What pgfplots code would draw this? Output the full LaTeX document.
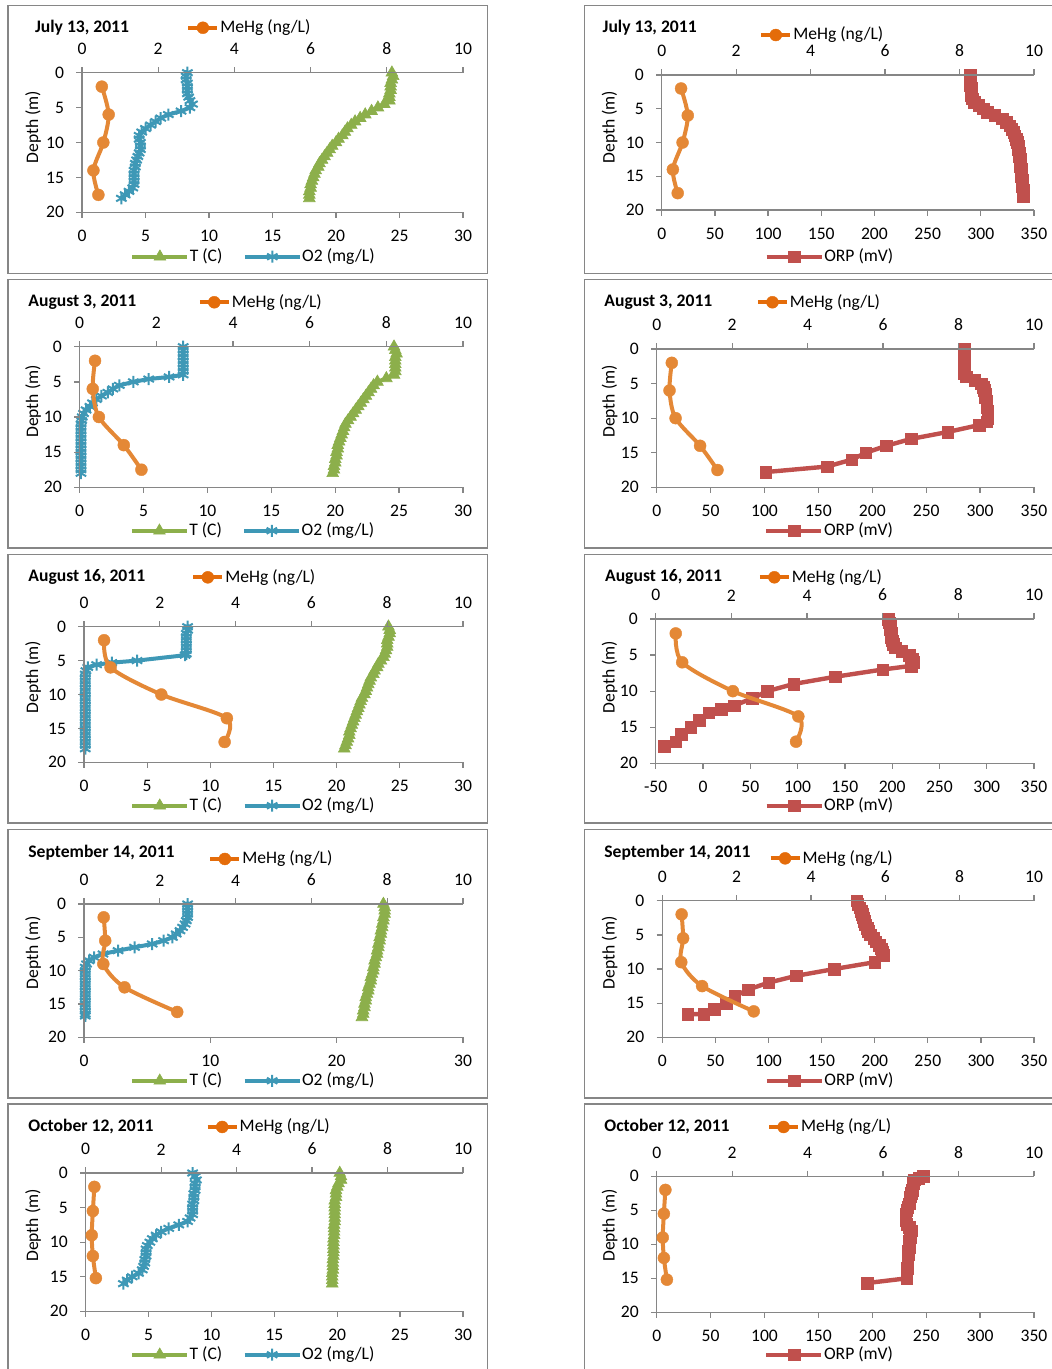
\documentclass[border=0pt]{standalone}
\usepackage{fontspec}
\setmainfont{Carlito}
\usepackage{pgfplots}
\pgfplotsset{compat=1.18}
\definecolor{mehg}{RGB}{228,136,54}
\definecolor{mehgleg}{RGB}{228,108,10}
\definecolor{tgreen}{RGB}{140,175,75}
\definecolor{oblue}{RGB}{62,152,182}
\definecolor{orpred}{RGB}{192,80,77}
\definecolor{axgray}{RGB}{134,134,134}
\newcommand\tk{\fontsize{8.8}{10.5}\selectfont}
\pgfplotsset{
 base/.style={scale only axis, anchor=north west, ymin=0, ymax=20, y dir=reverse, clip=false,
   axis line style={axgray, line width=0.65pt},
   major tick style={axgray, line width=0.65pt},
   tick align=outside, major tick length=2.8pt,
   tick label style={font=\tk, inner sep=0pt, text=black},
   /pgf/number format/assume math mode=true,
   legend style={draw=none, fill=none, inner sep=0pt, font=\tk, anchor=west, nodes={inner sep=0pt}},
   legend cell align=left},
 topax/.style={base, xmin=0, xmax=10, xtick={0,2,...,10}, ytick={0,5,...,20},
   axis x line*=top, axis y line*=left, xticklabel shift=6pt, yticklabel shift=6pt,
   legend image code/.code={\draw[mark repeat=2,mark phase=2,##1] plot coordinates {(0pt,0pt) (7.25pt,0pt) (14.5pt,0pt)};},
   legend style={/tikz/every odd column/.style={column sep=0.5pt}}},
 botax/.style={base, xmin=0, axis x line*=bottom, axis y line=none, xticklabel shift=6pt,
   legend image code/.code={\draw[mark repeat=2,mark phase=2,##1] plot coordinates {(0pt,0pt) (13.75pt,0pt) (27.5pt,0pt)};},
   legend columns=2,
   legend style={/tikz/every odd column/.style={column sep=0.2pt}, /tikz/every even column/.style={column sep=10.2pt}}},
 botT/.style={botax, xmax=30, xtick={0,5,...,30}},
 botORP/.style={botax, xmax=350, xtick={0,50,...,350}},
 sMe/.style={mehg, line width=2pt, smooth, mark=*, mark size=3pt, mark options={solid, line width=0.2pt}},
 sMeL/.style={sMe, mehgleg},
 sT/.style={tgreen, line width=2pt, mark=triangle*, mark size=3.4pt, mark options={solid, line width=0.3pt}},
 sO/.style={oblue, line width=2pt, mark=asterisk, mark size=3pt, mark options={solid, line width=1pt}},
 sR/.style={orpred, line width=2.2pt, mark=square*, mark size=2.9pt, mark options={solid, line width=0.2pt}},
}
\begin{document}
\begin{tikzpicture}
% ---------- frames, titles, labels ----------
\begin{scope}[x=0.5pt,y=-0.5pt]
 \foreach \a/\b in {5.5/273.5, 279.5/548, 554.5/823, 829.5/1098, 1104/1380}{
   \draw[axgray, line width=0.75pt] (8,\a) rectangle (487.5,\b);
   \draw[axgray, line width=0.75pt] (584.5,\a) rectangle (1070,\b);
 }
 \node[anchor=west, font=\tk\bfseries, inner sep=0pt] at (34.7,27.7) {July 13, 2011};
 \node[anchor=west, font=\tk\bfseries, inner sep=0pt] at (602.3,27.7) {July 13, 2011};
 \node[anchor=west, font=\tk\bfseries, inner sep=0pt] at (28,302.3) {August 3, 2011};
 \node[anchor=west, font=\tk\bfseries, inner sep=0pt] at (604,302.3) {August 3, 2011};
 \node[anchor=west, font=\tk\bfseries, inner sep=0pt] at (28,577.3) {August 16, 2011};
 \node[anchor=west, font=\tk\bfseries, inner sep=0pt] at (604.7,577.3) {August 16, 2011};
 \node[anchor=west, font=\tk\bfseries, inner sep=0pt] at (28,852.3) {September 14, 2011};
 \node[anchor=west, font=\tk\bfseries, inner sep=0pt] at (604,852.3) {September 14, 2011};
 \node[anchor=west, font=\tk\bfseries, inner sep=0pt] at (28,1127) {October 12, 2011};
 \node[anchor=west, font=\tk\bfseries, inner sep=0pt] at (604,1127) {October 12, 2011};
 \foreach \yy in {127,401.5,677,952.7,1225.5}{
   \node[rotate=90, font=\tk, inner sep=0pt] at (33,\yy) {Depth (m)};
   \node[rotate=90, font=\tk, inner sep=0pt] at (609.5,\yy) {Depth (m)};
 }
\end{scope}

% ================= Row 1: July 13 =================
\begin{axis}[botT, at={(41pt,-36.35pt)}, width=190.5pt, height=69.8pt,
  legend style={at={(0.126,-0.318)}}]
\addplot[sT] coordinates {(24.4,0) (24.5,0.5) (24.4,1) (24.3,1.5) (24.3,2) (24.3,2.5) (24.2,3) (24.2,3.5) (24.2,4) (23.8,4.5) (23.3,5) (22.8,5.5) (22.3,6) (21.9,6.5) (21.5,7) (21.2,7.5) (20.9,8) (20.7,8.5) (20.5,9) (20.2,9.5) (20.0,10) (19.7,10.5) (19.5,11) (19.3,11.5) (19.1,12) (18.9,12.5) (18.7,13) (18.6,13.5) (18.4,14) (18.3,14.5) (18.2,15) (18.1,15.5) (18.0,16) (18.0,16.5) (17.9,17) (17.9,17.5) (17.9,18)};
\addlegendentry{T (C)}
\addplot[sO] coordinates {(8.3,0) (8.2,0.5) (8.2,1) (8.3,1.5) (8.3,2) (8.3,2.5) (8.3,3) (8.4,3.5) (8.5,4) (8.7,4.5) (8.5,5) (7.8,5.5) (6.8,6) (6.2,6.5) (5.8,7) (5.4,7.5) (5.0,8) (4.7,8.5) (4.5,9) (4.5,9.5) (4.6,10) (4.6,10.5) (4.6,11) (4.5,11.5) (4.4,12) (4.3,12.5) (4.2,13) (4.2,13.5) (4.1,14) (4.1,14.5) (4.1,15) (4.1,15.5) (4.1,16) (4.0,16.5) (3.7,17) (3.4,17.5) (3.1,18)};
\addlegendentry{O2 (mg/L)}
\end{axis}
\begin{axis}[topax, at={(41pt,-36.35pt)}, width=190.5pt, height=69.8pt,
  legend style={at={(0.273,1.322)}}]
\addlegendimage{sMeL}\addlegendentry{MeHg (ng/L)}
\addplot[sMe, forget plot] coordinates {(0.52,2) (0.70,6) (0.56,10) (0.30,14) (0.43,17.5)};
\end{axis}

\begin{axis}[botORP, at={(330.85pt,-37.5pt)}, width=186.15pt, height=67.5pt,
  legend style={at={(0.275,-0.346)}}]
\addplot[sR] coordinates {(290,0) (290,0.5) (290,1) (290,1.5) (291,2) (291,2.5) (291,3) (292,3.5) (294,4) (298,4.5) (302,5) (306,5.5) (313,6) (320,6.5) (324,7) (327,7.5) (329,8) (331,8.5) (332,9) (333,9.5) (334,10) (335,10.5) (335,11) (336,11.5) (336,12) (337,12.5) (337,13) (337,13.5) (338,14) (338,14.5) (338,15) (339,15.5) (339,16) (339,16.5) (340,17) (340,17.5) (340,18)};
\addlegendentry{ORP (mV)}
\end{axis}
\begin{axis}[topax, at={(330.85pt,-37.5pt)}, width=186.15pt, height=67.5pt,
  legend style={at={(0.261,1.296)}}]
\addlegendimage{sMeL}\addlegendentry{MeHg (ng/L)}
\addplot[sMe, forget plot] coordinates {(0.52,2) (0.70,6) (0.56,10) (0.30,14) (0.43,17.5)};
\end{axis}

% ================= Row 2: August 3 =================
\begin{axis}[botT, at={(39.85pt,-173.35pt)}, width=191.65pt, height=70.3pt,
  legend style={at={(0.130,-0.309)}}]
\addplot[sT] coordinates {(24.6,0) (24.7,0.5) (24.8,1) (24.7,1.5) (24.7,2) (24.7,2.5) (24.7,3) (24.7,3.5) (24.6,4) (24.0,4.5) (23.3,5) (23.0,5.5) (22.8,6) (22.6,6.5) (22.4,7) (22.2,7.5) (22.0,8) (21.8,8.5) (21.6,9) (21.4,9.5) (21.2,10) (21.0,10.5) (20.8,11) (20.7,11.5) (20.6,12) (20.5,12.5) (20.4,13) (20.3,13.5) (20.2,14) (20.2,14.5) (20.1,15) (20.1,15.5) (20.0,16) (20.0,16.5) (19.9,17) (19.9,17.5) (19.8,18)};
\addlegendentry{T (C)}
\addplot[sO] coordinates {(8.1,0) (8.1,0.5) (8.1,1) (8.1,1.5) (8.1,2) (8.1,2.5) (8.1,3) (8.1,3.5) (8.1,4) (7.0,4.3) (5.4,4.6) (4.2,5) (3.1,5.5) (2.6,6) (2.2,6.5) (1.7,7) (1.3,7.5) (1.0,8) (0.8,8.5) (0.5,9) (0.3,9.5) (0.2,10) (0.15,10.5) (0.1,11) (0.1,11.5) (0.1,12) (0.1,12.5) (0.1,13) (0.1,13.5) (0.1,14) (0.1,14.5) (0.1,15) (0.1,15.5) (0.1,16) (0.1,16.5) (0.1,17) (0.1,17.5) (0.1,18)};
\addlegendentry{O2 (mg/L)}
\end{axis}
\begin{axis}[topax, at={(39.85pt,-173.35pt)}, width=191.65pt, height=70.3pt,
  legend style={at={(0.307,1.316)}}]
\addlegendimage{sMeL}\addlegendentry{MeHg (ng/L)}
\addplot[sMe, forget plot] coordinates {(0.40,2) (0.34,6) (0.50,10) (1.15,14) (1.61,17.5)};
\end{axis}

\begin{axis}[botORP, at={(328.35pt,-174.5pt)}, width=188.65pt, height=69.15pt,
  legend style={at={(0.284,-0.314)}}]
\addplot[sR] coordinates {(285,0) (285,0.5) (285,1) (285,1.5) (285,2) (285,2.5) (285,3) (285,3.5) (287,4) (295,4.5) (301,5) (303,5.5) (304,6) (305,6.5) (305,7) (306,7.5) (306,8) (306,8.5) (307,9) (307,9.5) (307,10) (306,10.5) (299,11) (270,12) (236,13) (213,14) (194,15) (181,16) (158,17) (101,17.8)};
\addlegendentry{ORP (mV)}
\end{axis}
\begin{axis}[topax, at={(328.35pt,-174.5pt)}, width=188.65pt, height=69.15pt,
  legend style={at={(0.262,1.338)}}]
\addlegendimage{sMeL}\addlegendentry{MeHg (ng/L)}
\addplot[sMe, forget plot] coordinates {(0.40,2) (0.34,6) (0.50,10) (1.15,14) (1.61,17.5)};
\end{axis}

% ================= Row 3: August 16 =================
\begin{axis}[botT, at={(42pt,-313.35pt)}, width=189.5pt, height=67.8pt,
  legend style={at={(0.121,-0.320)}}]
\addplot[sT] coordinates {(24.1,0) (24.2,0.5) (24.2,1) (24.1,1.5) (24.0,2) (24.0,2.5) (24.0,3) (23.9,3.5) (23.8,4) (23.7,4.5) (23.5,5) (23.3,5.5) (23.2,6) (23.0,6.5) (22.9,7) (22.7,7.5) (22.6,8) (22.5,8.5) (22.4,9) (22.3,9.5) (22.2,10) (22.0,10.5) (21.9,11) (21.8,11.5) (21.7,12) (21.6,12.5) (21.5,13) (21.4,13.5) (21.3,14) (21.2,14.5) (21.1,15) (21.0,15.5) (21.0,16) (20.9,16.5) (20.8,17) (20.7,17.5) (20.6,18)};
\addlegendentry{T (C)}
\addplot[sO] coordinates {(8.2,0) (8.2,0.5) (8.1,1) (8.1,1.5) (8.1,2) (8.1,2.5) (8.1,3) (8.1,3.5) (8.1,4) (8.0,4.2) (4.2,5.0) (2.2,5.3) (1.0,5.6) (0.3,6) (0.15,6.5) (0.1,7) (0.1,7.5) (0.1,8) (0.1,8.5) (0.1,9) (0.1,9.5) (0.1,10) (0.1,10.5) (0.1,11) (0.1,11.5) (0.1,12) (0.1,12.5) (0.1,13) (0.1,13.5) (0.1,14) (0.1,14.5) (0.1,15) (0.1,15.5) (0.1,16) (0.1,16.5) (0.1,17) (0.1,17.5) (0.1,18)};
\addlegendentry{O2 (mg/L)}
\end{axis}
\begin{axis}[topax, at={(42pt,-313.35pt)}, width=189.5pt, height=67.8pt,
  legend style={at={(0.282,1.364)}}]
\addlegendimage{sMeL}\addlegendentry{MeHg (ng/L)}
\addplot[sMe, forget plot] coordinates {(0.53,2) (0.70,6) (2.04,10) (3.77,13.5) (3.71,17)};
\end{axis}

\begin{axis}[botORP, xmin=-50, xtick={-50,0,...,350}, at={(327.85pt,-309.5pt)}, width=189.15pt, height=72.15pt,
  legend style={at={(0.286,-0.294)}}]
\addplot[sR] coordinates {(196,0) (197,0.5) (198,1) (198,1.5) (199,2) (199,2.5) (200,3) (201,3.5) (203,4) (210,4.5) (218,5) (221,5.5) (222,6) (220,6.5) (190,7) (140,8) (96,9) (68,10) (52,11) (33,12) (19,12.5) (6,13) (-4,14) (-13,15) (-23,16) (-29,17) (-41,17.6)};
\addlegendentry{ORP (mV)}
\end{axis}
\begin{axis}[topax, at={(327.85pt,-309.5pt)}, width=189.15pt, height=72.15pt,
  legend style={at={(0.269,1.289)}}]
\addlegendimage{sMeL}\addlegendentry{MeHg (ng/L)}
\addplot[sMe, forget plot] coordinates {(0.53,2) (0.70,6) (2.04,10) (3.77,13.5) (3.71,17)};
\end{axis}

% ================= Row 4: September 14 =================
\begin{axis}[botT, xtick={0,10,20,30}, at={(42pt,-452pt)}, width=189.5pt, height=66.65pt,
  legend style={at={(0.121,-0.326)}}]
\addplot[sT] coordinates {(23.7,0) (23.8,0.5) (23.8,1) (23.8,1.5) (23.7,2) (23.7,2.5) (23.6,3) (23.6,3.5) (23.5,4) (23.5,4.5) (23.4,5) (23.4,5.5) (23.3,6) (23.3,6.5) (23.2,7) (23.2,7.5) (23.1,8) (23.0,8.5) (23.0,9) (22.9,9.5) (22.9,10) (22.8,10.5) (22.7,11) (22.7,11.5) (22.6,12) (22.5,12.5) (22.5,13) (22.4,13.5) (22.3,14) (22.3,14.5) (22.2,15) (22.2,15.5) (22.1,16) (22.1,16.5) (22.0,17)};
\addlegendentry{T (C)}
\addplot[sO] coordinates {(8.2,0) (8.2,0.5) (8.2,1) (8.2,1.5) (8.2,2) (8.1,2.5) (8.0,3) (7.8,3.5) (7.6,4) (7.3,4.5) (7.0,5) (6.3,5.5) (5.4,6) (4.0,6.5) (2.7,7) (1.5,7.5) (0.8,8) (0.4,8.5) (0.2,9) (0.1,9.5) (0.1,10) (0.1,10.5) (0.1,11) (0.1,11.5) (0.1,12) (0.1,12.5) (0.1,13) (0.1,13.5) (0.1,14) (0.1,14.5) (0.1,15) (0.1,15.5) (0.1,16) (0.1,16.5) (0.1,16.8)};
\addlegendentry{O2 (mg/L)}
\end{axis}
\begin{axis}[topax, at={(42pt,-452pt)}, width=189.5pt, height=66.65pt,
  legend style={at={(0.327,1.338)}}]
\addlegendimage{sMeL}\addlegendentry{MeHg (ng/L)}
\addplot[sMe, forget plot] coordinates {(0.52,2) (0.56,5.5) (0.51,9) (1.07,12.5) (2.46,16.2)};
\end{axis}

\begin{axis}[botORP, at={(331.15pt,-450.35pt)}, width=185.85pt, height=68.3pt,
  legend style={at={(0.274,-0.318)}}]
\addplot[sR] coordinates {(183,0) (184,0.5) (186,1) (187,1.5) (188,2) (189,2.5) (190,3) (191,3.5) (193,4) (194,4.5) (196,5) (199,5.5) (201,6) (204,6.5) (206,7) (207,7.5) (208,8) (200,9) (162,10) (126,11) (100,12) (81,13) (68,14) (60,15) (49,15.9) (39,16.6) (24,16.6)};
\addlegendentry{ORP (mV)}
\end{axis}
\begin{axis}[topax, at={(331.15pt,-450.35pt)}, width=185.85pt, height=68.3pt,
  legend style={at={(0.285,1.310)}}]
\addlegendimage{sMeL}\addlegendentry{MeHg (ng/L)}
\addplot[sMe, forget plot] coordinates {(0.52,2) (0.56,5.5) (0.51,9) (1.07,12.5) (2.46,16.2)};
\end{axis}

% ================= Row 5: October 12 =================
\begin{axis}[botT, at={(42.85pt,-586.5pt)}, width=188.65pt, height=69.15pt,
  legend style={at={(0.117,-0.314)}}]
\addplot[sT] coordinates {(20.2,0) (20.3,0.5) (20.3,1) (20.1,1.5) (20.0,2) (19.9,2.5) (19.9,3) (19.9,3.5) (19.8,4) (19.8,4.5) (19.8,5) (19.8,5.5) (19.8,6) (19.8,6.5) (19.8,7) (19.75,7.5) (19.75,8) (19.75,8.5) (19.75,9) (19.7,9.5) (19.7,10) (19.7,10.5) (19.7,11) (19.7,11.5) (19.7,12) (19.65,12.5) (19.65,13) (19.65,13.5) (19.65,14) (19.6,14.5) (19.6,15) (19.6,15.5) (19.6,16)};
\addlegendentry{T (C)}
\addplot[sO] coordinates {(8.5,0) (8.7,0.5) (8.8,1) (8.7,1.5) (8.7,2) (8.7,2.5) (8.6,3) (8.6,3.5) (8.6,4) (8.5,4.5) (8.5,5) (8.5,5.5) (8.5,6) (8.3,6.5) (8.1,7) (7.4,7.5) (6.6,8) (6.0,8.5) (5.6,9) (5.3,9.5) (5.1,10) (4.9,10.5) (4.8,11) (4.8,11.5) (4.8,12) (4.7,12.5) (4.7,13) (4.6,13.5) (4.5,14) (4.2,14.5) (3.7,15) (3.3,15.5) (3.0,16)};
\addlegendentry{O2 (mg/L)}
\end{axis}
\begin{axis}[topax, at={(42.85pt,-586.5pt)}, width=188.65pt, height=69.15pt,
  legend style={at={(0.317,1.333)}}]
\addlegendimage{sMeL}\addlegendentry{MeHg (ng/L)}
\addplot[sMe, forget plot] coordinates {(0.23,2) (0.19,5.5) (0.16,9) (0.19,12) (0.27,15.2)};
\end{axis}

\begin{axis}[botORP, at={(328.35pt,-588.15pt)}, width=188.65pt, height=68pt,
  legend style={at={(0.284,-0.312)}}]
\addplot[sR] coordinates {(247,0) (243,0.25) (239,0.5) (238,1) (237.5,1.5) (237,2) (236,2.5) (235,3) (234.5,3.5) (234,4) (233,4.5) (232,5) (231,5.5) (231,6) (231,6.5) (232,7) (234,7.5) (236,8) (235,8.5) (235,9) (234,9.5) (234,10) (234,10.5) (233.5,11) (233.5,11.5) (233,12) (233,12.5) (233,13) (232.5,13.5) (232,14) (232,14.5) (232,15) (195,15.7)};
\addlegendentry{ORP (mV)}
\end{axis}
\begin{axis}[topax, at={(328.35pt,-588.15pt)}, width=188.65pt, height=68pt,
  legend style={at={(0.2915,1.3625)}}]
\addlegendimage{sMeL}\addlegendentry{MeHg (ng/L)}
\addplot[sMe, forget plot] coordinates {(0.23,2) (0.19,5.5) (0.16,9) (0.19,12) (0.27,15.2)};
\end{axis}

\pgfresetboundingbox
\useasboundingbox (0pt,0pt) rectangle (526pt,-684.5pt);
\end{tikzpicture}
\end{document}
